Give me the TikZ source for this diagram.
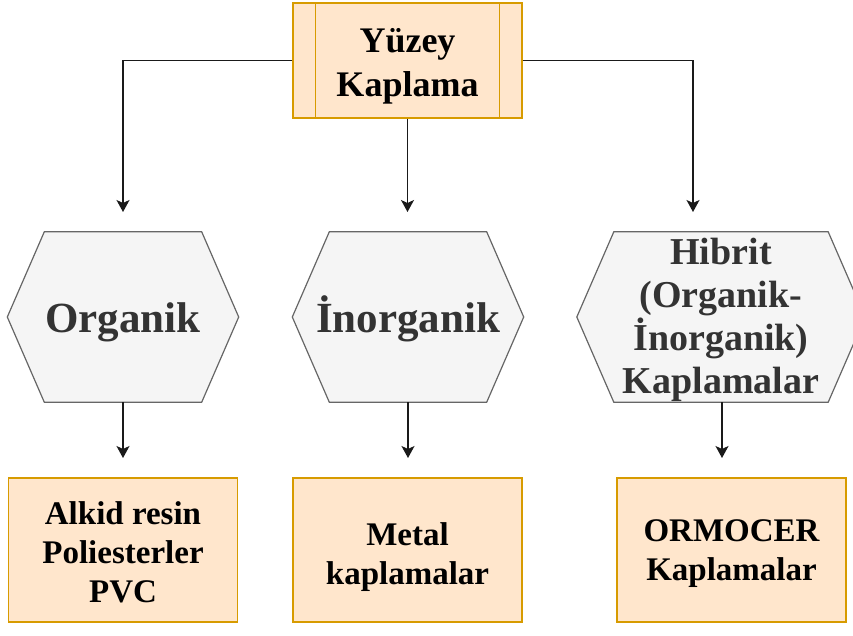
\documentclass[tikz,border=0pt]{standalone}
\usepackage{fontspec}
\setmainfont{Liberation Serif}
\usetikzlibrary{arrows.meta,calc,backgrounds}

\definecolor{boxfill}{HTML}{FFE6CC}
\definecolor{boxline}{HTML}{D79B00}
\definecolor{hexfill}{HTML}{F5F5F5}
\definecolor{hexline}{HTML}{666666}
\definecolor{hextext}{HTML}{333333}
\definecolor{connline}{HTML}{1A1A1A}

\begin{document}
\begin{tikzpicture}[x=1pt,y=-1pt,
  rootbox/.style={draw=boxline, fill=boxfill, line width=1.3pt,
    minimum width=229pt, minimum height=115pt, inner sep=0pt},
  roottext/.style={align=center, inner sep=0pt,
    font=\fontsize{36}{44}\selectfont\bfseries},
  leafbox/.style={draw=boxline, fill=boxfill, line width=1.3pt,
    minimum width=229pt, minimum height=144pt, inner sep=0pt},
  leaftext/.style={align=center, inner sep=0pt,
    font=\fontsize{33}{39}\selectfont\bfseries},
  hexnode/.style={minimum height=170pt, inner sep=0pt,
    align=center, text=hextext},
  bigtext/.style={font=\fontsize{43}{48}\selectfont\bfseries,
    text height=40pt, text depth=10pt},
  smalltext/.style={align=center, inner sep=0pt, text=hextext,
    font=\fontsize{38}{43}\selectfont\bfseries},
  hexshape/.style={draw=hexline, fill=hexfill, line width=1.2pt},
  conn/.style={draw=connline, line width=1.5pt,
    -{Stealth[length=12pt, width=13pt, inset=3pt]}}]

\useasboundingbox (0,0) rectangle (853,635);

% root
\node[rootbox] (top) at (407.5,60.5) {};
\draw[boxline, line width=1.3pt]
  ($(top.north west)+(23,0)$) -- ($(top.south west)+(23,0)$)
  ($(top.north east)+(-23,0)$) -- ($(top.south east)+(-23,0)$);
\node[roottext] (toptext) at ($(top)+(0,6)$) {Yüzey\\Kaplama};

% categories
\node[hexnode, bigtext, minimum width=231pt] (h1) at (123,317) {Organik};
\node[hexnode, bigtext, minimum width=231pt] (h2) at (408,317) {İnorganik};
\node[hexnode, minimum width=288pt] (h3) at (721,317) {};
\node[smalltext] (h3text) at ($(h3)+(0,3)$)
  {Hibrit\\(Organik-\\İnorganik)\\Kaplamalar};

\begin{scope}[on background layer]
  \foreach \h in {h1,h2,h3}{
    \draw[hexshape] (\h.west) -- ($(\h.north west)+(37,0)$)
      -- ($(\h.north east)+(-37,0)$) -- (\h.east)
      -- ($(\h.south east)+(-37,0)$) -- ($(\h.south west)+(37,0)$) -- cycle;
  }
\end{scope}

% examples
\node[leafbox] (b1) at (123,550) {};
\node[leaftext] (b1text) at ($(b1)+(0,2)$) {Alkid resin\\Poliesterler\\PVC};
\node[leafbox] (b2) at (407.5,550) {};
\node[leaftext] (b2text) at ($(b2)+(0,7)$) {Metal\\kaplamalar};
\node[leafbox] (b3) at (731.5,550) {};
\node[leaftext] (b3text) at ($(b3)+(0,4)$) {ORMOCER\\Kaplamalar};

% arrow ends
\coordinate (a1) at (123,212);
\coordinate (a2) at (407.5,212);
\coordinate (a3) at (693,212);
\coordinate (c1) at (123,458);
\coordinate (c2) at (408,458);
\coordinate (c3) at (722,458);

% connectors
\draw[conn] (top.west) -| (a1);
\draw[conn] (top.south) -- (a2);
\draw[conn] (top.east) -| (a3);
\draw[conn] (h1.south) -- (c1);
\draw[conn] (h2.south) -- (c2);
\draw[conn] (h3.south -| c3) -- (c3);
\end{tikzpicture}
\end{document}
